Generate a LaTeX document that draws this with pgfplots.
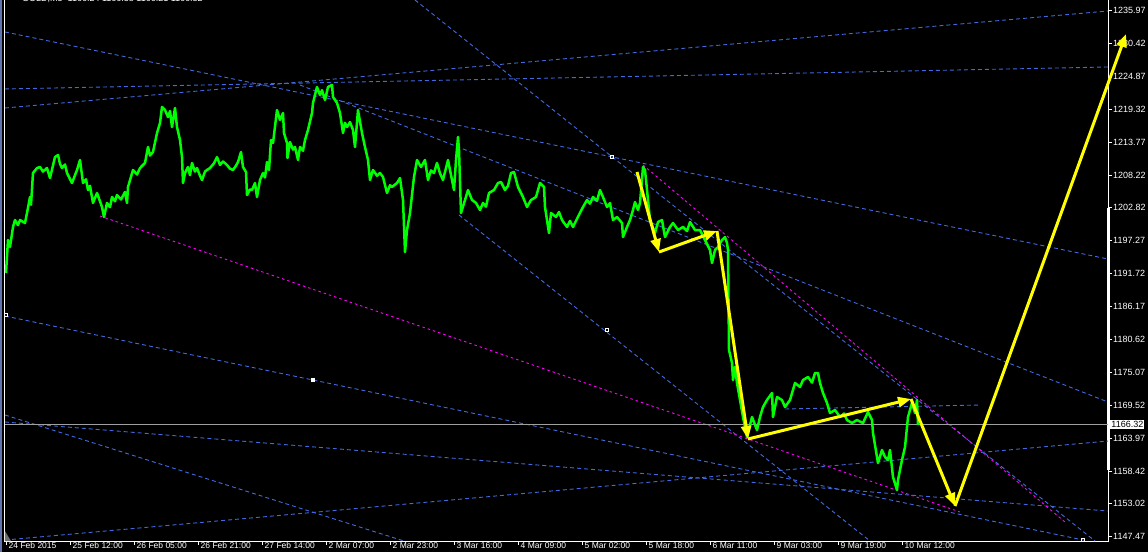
\documentclass[border=0pt]{standalone}
\usepackage{pgfplots}
\pgfplotsset{compat=1.18}
\usepackage{fontspec}
\setmainfont{Liberation Sans}
\usetikzlibrary{arrows.meta}
\definecolor{mtblue}{RGB}{65,105,225}
\definecolor{mtgreen}{RGB}{0,255,0}
\definecolor{mtyellow}{RGB}{255,255,0}
\definecolor{mtmag}{RGB}{255,0,255}
\definecolor{mtgray}{RGB}{160,160,160}
\begin{document}
\begin{tikzpicture}
\useasboundingbox (0,0) rectangle (1148pt,552pt);
\clip (0,0) rectangle (1148pt,552pt);
\fill[black] (0,0) rectangle (1148pt,552pt);
\fill[mtblue!50!gray] (0,0) rectangle (2pt,552pt);
\node[anchor=base west, text=white, inner sep=0pt, font=\fontsize{9}{10}\selectfont] at (22pt,550.5pt) {GOLD,M5\ \ 1166.24 1166.38 1166.21 1166.32};
\begin{axis}[
  at={(5pt,11pt)}, anchor=south west,
  scale only axis, width=1103pt, height=541pt,
  xmin=5, xmax=1108, ymin=1146.75, ymax=1237.77,
  clip=false,
  axis line style={draw=none},
  xtick={6,70,...,902},
  xticklabels={24 Feb 2015, 25 Feb 12:00, 26 Feb 05:00, 26 Feb 21:00, 27 Feb 14:00, 2 Mar 07:00, 2 Mar 23:00, 3 Mar 16:00, 4 Mar 09:00, 5 Mar 02:00, 5 Mar 18:00, 6 Mar 11:00, 9 Mar 03:00, 9 Mar 19:00, 10 Mar 12:00},
  ytick={1147.47,1153.02,1158.42,1163.97,1169.52,1175.07,1180.62,1186.17,1191.72,1197.27,1202.82,1208.22,1213.77,1219.32,1224.87,1230.42,1235.97},
  yticklabels={1147.47,1153.02,1158.42,1163.97,1169.52,1175.07,1180.62,1186.17,1191.72,1197.27,1202.82,1208.22,1213.77,1219.32,1224.87,1230.42,1235.97},
  xtick pos=lower, ytick pos=upper, yticklabel pos=upper,
  tick align=outside, major tick length=4pt,
  tick style={white, line width=0.8pt},
  tick label style={font=\fontsize{9}{10}\selectfont, text=white, inner sep=0pt},
  xticklabel style={anchor=north west, yshift=2.5pt, xshift=2.5pt, font=\fontsize{8.5}{9}\selectfont},
  yticklabel style={anchor=west, xshift=1pt},
]
% frame
\draw[white, line width=1pt] (rel axis cs:0,1) -- (rel axis cs:0,0) -- (rel axis cs:1,0) -- (rel axis cs:1,1);
\draw[white, line width=3pt] (axis cs:1108,1202.77) -- (axis cs:1108,1158.69);
% blue trend lines
\pgfplotsset{tl/.style={mtblue, line width=0.9pt, dash pattern=on 4pt off 3pt}}
\addplot[tl] coordinates {(5,1232.39) (1108,1194.19)};
\addplot[tl] coordinates {(5,1222.80) (1108,1226.50)};
\addplot[tl] coordinates {(5,1219.60) (1108,1235.92)};
\addplot[tl] coordinates {(415,1237.77) (1095,1146.75)};
\addplot[tl] coordinates {(5,1184.60) (1088,1146.75)};
\addplot[tl] coordinates {(5,1167.95) (404,1146.75)};
\addplot[tl] coordinates {(5,1166.77) (1108,1151.79)};
\addplot[tl] coordinates {(5,1146.91) (1108,1163.57)};
\addplot[tl] coordinates {(459,1201.60) (870,1146.75)};
\addplot[tl] coordinates {(300,1223.47) (1108,1170.13)};
\addplot[tl] coordinates {(785,1168.96) (980,1169.63)};
% magenta lines
\pgfplotsset{ml/.style={mtmag, line width=0.9pt, dash pattern=on 2.5pt off 3pt}}
\addplot[ml] coordinates {(643,1210.01) (1065,1149.94)};
\addplot[ml] coordinates {(100,1201.43) (960,1151.63)};
% current price line
\addplot[mtgray, line width=1pt] coordinates {(5,1166.32) (1108,1166.32)};
% price
\addplot[mtgreen, line width=2.5pt, line join=round] coordinates {
(6,1191.84)(8,1197.39)(10,1196.2)(13,1199.58)(15,1200.75)(18,1199.9)(20,1200.75)(25,1200.25)(27,1201.93)(30,1204.62)(31,1203.3)(33,1208.66)(37,1209.50)(40,1209.67)(43,1208.9)(47,1209.50)(50,1207.82)(55,1211.35)(58,1211.69)(60,1210.2)(62,1209.50)(65,1210.1)(67,1208.66)(72,1206.98)(75,1208.3)(77,1209.17)(80,1210.85)(83,1206.98)(86,1207.6)(88,1205.80)(90,1206.5)(93,1203.62)(97,1205.30)(100,1203.9)(102,1202.94)(104,1201.26)(107,1203.62)(110,1202.9)(112,1204.62)(115,1203.9)(117,1204.96)(121,1204.2)(125,1205.47)(127,1203.62)(128,1206.31)(133,1209.17)(137,1208.4)(140,1209.50)(145,1210.35)(148,1213.04)(150,1211.6)(153,1212.20)(157,1215.39)(160,1217.08)(162,1219.77)(165,1219.26)(168,1218.08)(170,1219.1)(172,1216.40)(175,1219.60)(177,1216.40)(180,1214.21)(182,1211.35)(183,1206.98)(185,1208.66)(188,1209.67)(190,1208.3)(192,1210.35)(195,1208.9)(197,1209.50)(200,1208.2)(202,1207.48)(205,1208.9)(207,1209.17)(210,1209.50)(214,1210.3)(217,1211.35)(220,1210.01)(223,1210.6)(227,1210.01)(230,1209.4)(233,1209.17)(236,1209.9)(238,1210.51)(241,1212.20)(243,1209.67)(246,1208.83)(247,1204.96)(250,1205.9)(252,1205.80)(255,1206.98)(257,1204.62)(260,1207.48)(263,1208.66)(265,1207.9)(267,1210.51)(269,1209.17)(271,1214.21)(273,1213.71)(277,1219.26)(280,1217.58)(283,1218.76)(284,1215.39)(287,1213.71)(287.5,1211.19)(290,1213.88)(293,1212.6)(295,1213.04)(298,1210.85)(300,1213.04)(303,1212.4)(305,1214.21)(308,1215.90)(312,1218.76)(313,1220.44)(317,1223.13)(320,1221.79)(322,1222.6)(325,1220.94)(328,1223.13)(332,1223.47)(333,1221.45)(337,1220.44)(340,1218.76)(343,1215.39)(345,1217.1)(347,1216.40)(350,1217.24)(353,1215.90)(355,1213.04)(358,1219.26)(362,1215.39)(365,1213.04)(368,1210.85)(370,1207.48)(373,1209.17)(377,1208.2)(380,1208.66)(383,1207.99)(387,1205.30)(390,1206.6)(392,1206.31)(397,1206.98)(400,1207.82)(403,1204.12)(405,1195.37)(407,1199.07)(410,1201.93)(414,1207.99)(417,1210.85)(421,1209.67)(425,1210.85)(428,1207.48)(431,1209.1)(434,1208.66)(437,1210.35)(440,1208.6)(443,1207.48)(448,1210.85)(452,1207.48)(454,1205.80)(456,1210.85)(458,1214.72)(459,1212.53)(461,1201.93)(465,1204.12)(468,1205.80)(472,1204.12)(476,1203.62)(480,1202.44)(483,1203.62)(486,1203.0)(489,1205.30)(494,1205.80)(498,1206.98)(501,1207.15)(505,1205.80)(508,1206.5)(511,1208.66)(514,1208.83)(518,1206.31)(523,1204.62)(527,1202.94)(531,1204.12)(536,1204.62)(540,1206.98)(544,1206.31)(545,1202.94)(549,1198.57)(551,1201.93)(556,1201.26)(559,1202.1)(562,1200.75)(567,1199.58)(570,1200.6)(573,1199.58)(578,1201.3)(583,1202.94)(587,1204.12)(590,1203.5)(593,1204.62)(597,1204.0)(600,1205.80)(603,1204.62)(607,1202.94)(610,1203.6)(613,1200.75)(617,1201.26)(622,1200.25)(623,1197.89)(627,1199.58)(630,1200.75)(633,1202.44)(635,1203.78)(638,1202.44)(640,1203.62)(643,1209.67)(645,1209.17)(647,1205.80)(650,1200.75)(655,1198.57)(658,1200.42)(662,1200.75)(665,1197.89)(670,1199.58)(673,1200.25)(678,1199.07)(683,1199.58)(687,1198.9)(690,1200.42)(695,1199.07)(700,1199.07)(705,1197.39)(710,1195.71)(712,1193.52)(715,1195.71)(718,1196.21)(722,1197.39)(725,1197.89)(727,1196.89)(728,1195.71)(729,1178.88)(732,1176.70)(733,1173.83)(735,1176.02)(737,1173.33)(740,1170.47)(743,1167.61)(747,1164.24)(752,1167.61)(757,1165.42)(760,1167.61)(763,1169.29)(767,1170.47)(772,1171.65)(773,1167.61)(777,1170.97)(782,1170.47)(785,1169.29)(790,1170.47)(795,1173.33)(800,1172.66)(803,1173.83)(808,1174.34)(812,1173.4)(815,1175.01)(818,1175.01)(820,1173.33)(823,1171.65)(827,1169.97)(830,1168.28)(835,1168.79)(840,1167.61)(844,1168.2)(847,1167.10)(852,1166.60)(857,1167.10)(863,1166.60)(868,1168.45)(872,1167.10)(873,1164.92)(877,1160.88)(878,1159.87)(882,1162.06)(885,1160.88)(888,1160.37)(890,1162.06)(893,1157.51)(897,1155.33)(898,1157.01)(902,1160.37)(905,1162.56)(908,1167.61)(912,1169.97)(915,1168.28)(917,1170.47)(918,1166.26)
};
% yellow arrows
\pgfplotsset{ya/.style={mtyellow, line width=3pt, -{Triangle[length=13pt,width=10pt]}}}
\addplot[ya] coordinates {(637,1208.83) (659,1195.37)};
\addplot[ya] coordinates {(659,1195.37) (717,1198.90)};
\addplot[ya] coordinates {(717,1198.90) (748,1163.91)};
\addplot[ya] coordinates {(748,1163.91) (911,1170.64)};
\addplot[ya] coordinates {(911,1170.64) (955,1152.64)};
\addplot[ya] coordinates {(955,1152.64) (1126,1232.05)};
% anchor marks
\addplot[white, only marks, mark=square, mark size=1.5pt, mark options={line width=0.7pt}] coordinates {(6,1184.77) (607,1182.25) (612,1211.35) (1083,1146.92)};
\addplot[white, only marks, mark=square*, mark size=1.5pt] coordinates {(313,1173.83)};
\addplot[fill=mtgray!70!black, draw=none] coordinates {(5,1146.75) (5,1148.4) (11,1146.75) (5,1146.75)};
\node[fill=white, text=black, anchor=west, inner sep=1.2pt, font=\fontsize{9}{10}\selectfont] at (axis cs:1110,1166.32) {1166.32};
\end{axis}
\end{tikzpicture}
\end{document}
